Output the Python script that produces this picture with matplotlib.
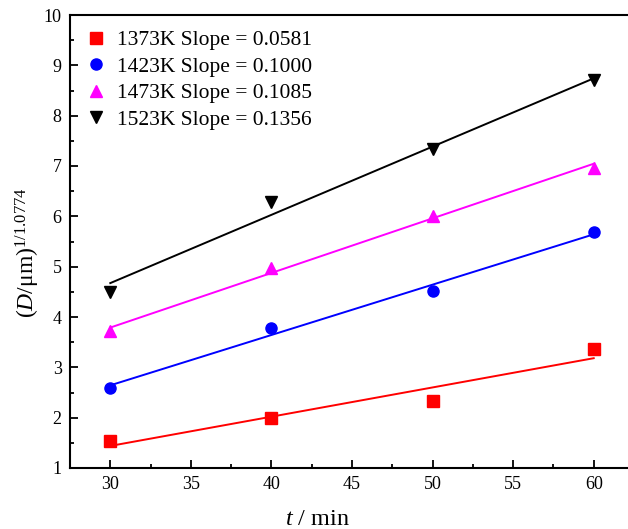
import numpy as np
import matplotlib
matplotlib.use('Agg')
import matplotlib.pyplot as plt
from matplotlib.ticker import MultipleLocator

plt.rcParams['font.family'] = ['Liberation Serif', 'DejaVu Serif']
plt.rcParams['mathtext.fontset'] = 'custom'
plt.rcParams['mathtext.rm'] = 'Liberation Serif'
plt.rcParams['mathtext.it'] = 'Liberation Serif:italic'

# Annealing time (min) and grain size term for each temperature
time_min = [30, 40, 50, 60]
temps = ['1373K', '1423K', '1473K', '1523K']
slopes = [0.0581, 0.1000, 0.1085, 0.1356]
d_1373 = [1.54, 2.00, 2.34, 3.36]
d_1423 = [2.59, 3.78, 4.52, 5.68]
d_1473 = [3.72, 4.97, 6.01, 6.97]
d_1523 = [4.50, 6.29, 7.34, 8.70]

series = [d_1373, d_1423, d_1473, d_1523]
colors = ['#ff0000', '#0000ff', '#ff00ff', '#000000']
markers = ['s', 'o', '^', 'v']

fig = plt.figure(figsize=(6.28, 5.29), dpi=100)
ax = fig.add_axes([70 / 628, 61 / 529, 564 / 628, 453 / 529])

x = np.array(time_min, dtype=float)
for temp, k, y, c, m in zip(temps, slopes, series, colors, markers):
    y = np.array(y)
    # fitted line through the data centroid with the reported slope
    b = y.mean() - k * x.mean()
    ax.plot(x, y, linestyle='none', marker=m, color=c, markersize=8,
            label=f'{temp} Slope = {k:.4f}')
    ax.plot([x[0], x[-1]], [k * x[0] + b, k * x[-1] + b],
            color=c, linewidth=1.4)

ax.set_xlim(27.5, 62.5)
ax.set_ylim(1, 10)
ax.xaxis.set_major_locator(MultipleLocator(5))
ax.xaxis.set_minor_locator(MultipleLocator(2.5))
ax.yaxis.set_major_locator(MultipleLocator(1))
ax.yaxis.set_minor_locator(MultipleLocator(0.5))
ax.tick_params(which='both', direction='in', labelsize=13, width=1.3,
               top=False, right=False)
ax.tick_params(which='major', length=6, pad=6)
ax.tick_params(which='minor', length=3)
ax.spines['right'].set_visible(False)
for s in ['left', 'bottom', 'top']:
    ax.spines[s].set_linewidth(1.5)

ax.set_xlabel(r'$t$ / min', fontsize=17.5)
ax.xaxis.set_label_coords((317 - 70) / 564, -(509 - 468) / 453)
ax.xaxis.label.set_va('top')
ax.set_ylabel(r'$(D/\mathrm{μm})^{1/1.0774}$', fontsize=17)
ax.yaxis.set_label_coords(-(70 - 42) / 564, (468 - 253) / 453)

ax.legend(loc='upper left', frameon=False, fontsize=15.5, handletextpad=0.5,
          labelspacing=0.3, borderaxespad=0.3, borderpad=0.4,
          handlelength=1.0, bbox_to_anchor=(0.0, 1.0))

fig.savefig('out.png', dpi=100)
